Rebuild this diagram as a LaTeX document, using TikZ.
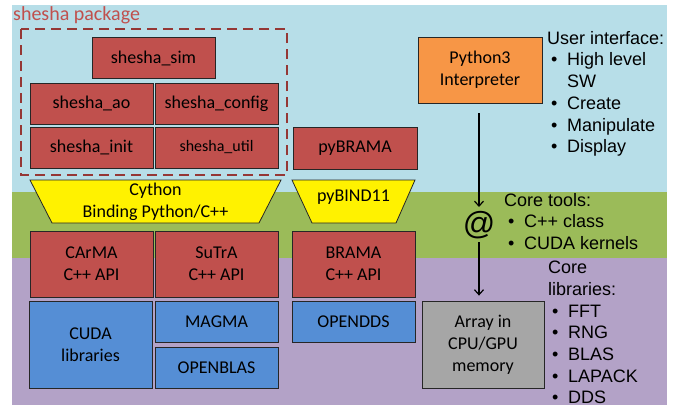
\documentclass[tikz,border=0pt]{standalone}
\usepackage{fontspec}
\setmainfont{Carlito}
\newfontfamily\notefont{Liberation Sans}
\usepackage{xcolor}
\usetikzlibrary{shapes.geometric}
\usetikzlibrary{arrows.meta,positioning,calc}
\definecolor{UserLayer}{HTML}{B7DEE8}
\definecolor{ToolLayer}{HTML}{9BBB59}
\definecolor{LibLayer}{HTML}{B3A2C7}
\definecolor{ModuleRed}{HTML}{C0504D}
\definecolor{PackageRed}{HTML}{953735}
\definecolor{LibBlue}{HTML}{558ED5}
\definecolor{InterpOrange}{HTML}{F79646}
\definecolor{MemoryGray}{HTML}{A6A6A6}
\tikzstyle{BoxNode} =[draw=black!85,line width=0.8pt,minimum width=123pt,minimum height=41pt,align=center,inner sep=0pt,font=\fontsize{18}{22}\selectfont]
\tikzstyle{ModuleNode} =[BoxNode,fill=ModuleRed]
\tikzstyle{LibNode} =[BoxNode,fill=LibBlue]
\tikzstyle{BindingShape} =[draw=black!85,line width=0.8pt,fill=yellow]
\tikzstyle{BindingText} =[inner sep=0pt,align=center,font=\fontsize{18}{22}\selectfont]
\tikzstyle{NoteNode} =[anchor=north west,align=left,inner sep=0pt,font=\notefont\fontsize{18}{21.7}\selectfont]
\newcommand\bul{\hspace*{4pt}\makebox[16pt][l]{\textbullet}}

\begin{document}
\begin{tikzpicture}[x=1pt,y=-1pt,>={Straight Barb[length=5pt,width=9pt]}]
\useasboundingbox (0,0) rectangle (694,405);
% layers
\fill[UserLayer] (12,5) rectangle (667,192);
\fill[ToolLayer] (12,192) rectangle (667,258);
\fill[LibLayer] (12,258) rectangle (667,405);
% shesha package
\node[anchor=north west,inner sep=0pt,text=ModuleRed,font=\fontsize{20}{24}\selectfont](PackageTitle) at (13,6){shesha package};
\draw[PackageRed,line width=2.5pt,dash pattern=on 10pt off 6pt] (21,29) rectangle (287,175);
\node[ModuleNode](shesha-sim) at (153.5,58){shesha\_sim};
\node[ModuleNode](shesha-ao) at (91.5,103.5){shesha\_ao};
\node[ModuleNode](shesha-config) at (216.5,103.5){shesha\_config};
\node[ModuleNode](shesha-init) at (91.5,147.5){shesha\_init};
\node[ModuleNode,font=\fontsize{16}{20}\selectfont](shesha-util) at (216.5,147.5){shesha\_util};
\node[ModuleNode,minimum width=124pt,minimum height=42pt](pyBRAMA) at (355,148){pyBRAMA};
% bindings
\draw[BindingShape] (30,180) -- (281,180) -- (259,223) -- (52,223) -- cycle;
\node[BindingText](Cython) at (155.5,201.5){Cython\\Binding Python/C++};
\draw[BindingShape] (292,180) -- (415,180) -- (396,223) -- (312,223) -- cycle;
\node[BindingText](pyBIND11) at (353.5,197){pyBIND11};
% C++ layer
\node[ModuleNode,minimum height=66pt](CArMA) at (91.5,264){CArMA\\C++ API};
\node[ModuleNode,minimum height=66pt](SuTrA) at (216.5,264){SuTrA\\C++ API};
\node[ModuleNode,minimum height=66pt](BRAMA) at (353.5,264){BRAMA\\C++ API};
% libraries
\node[LibNode,minimum height=87pt](CUDA) at (90.5,344.5){CUDA\\libraries};
\node[LibNode](MAGMA) at (216.5,321.5){MAGMA};
\node[LibNode](OPENBLAS) at (216.5,367.5){OPENBLAS};
\node[LibNode](OPENDDS) at (353.5,321.5){OPENDDS};
% interpreter and memory
\node[BoxNode,fill=InterpOrange,minimum width=124pt,minimum height=66pt](Python3) at (480,70){Python3\\Interpreter};
\node[font=\notefont\fontsize{32}{32}\selectfont,inner sep=0pt](AtSign) at (479,225){@};
\node[BoxNode,fill=MemoryGray,minimum width=122pt,minimum height=87pt](Array) at (483,344.5){Array in\\CPU/GPU\\memory};
\draw[->,line width=1.2pt,shorten <=10pt,shorten >=4pt] (Python3.south -| AtSign) -- (AtSign);
\draw[->,line width=1.2pt,shorten <=3pt,shorten >=5pt] (AtSign) -- (Array.north -| AtSign);
% notes
\node[NoteNode](UserNote) at (547,31){User interface:\\\bul High level\\\hspace*{20pt}SW\\\bul Create\\\bul Manipulate\\\bul Display};
\node[NoteNode](ToolNote) at (504,193){Core tools:\\\bul C++ class\\\bul CUDA kernels};
\node[NoteNode](LibNote) at (548,261){Core\\libraries:\\\bul FFT\\\bul RNG\\\bul BLAS\\\bul LAPACK\\\bul DDS};
\end{tikzpicture}
\end{document}
